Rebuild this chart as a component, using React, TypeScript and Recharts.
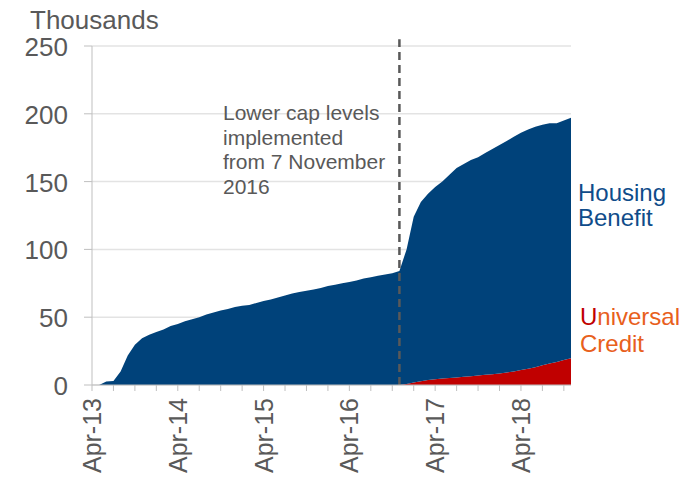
import { AreaChart, Area, XAxis, YAxis, CartesianGrid, ReferenceLine } from "recharts";

const months = [
  "Apr-13", "May-13", "Jun-13", "Jul-13", "Aug-13", "Sep-13", "Oct-13", "Nov-13", "Dec-13", "Jan-14", "Feb-14", "Mar-14",
  "Apr-14", "May-14", "Jun-14", "Jul-14", "Aug-14", "Sep-14", "Oct-14", "Nov-14", "Dec-14", "Jan-15", "Feb-15", "Mar-15",
  "Apr-15", "May-15", "Jun-15", "Jul-15", "Aug-15", "Sep-15", "Oct-15", "Nov-15", "Dec-15", "Jan-16", "Feb-16", "Mar-16",
  "Apr-16", "May-16", "Jun-16", "Jul-16", "Aug-16", "Sep-16", "Oct-16", "Nov-16", "Dec-16", "Jan-17", "Feb-17", "Mar-17",
  "Apr-17", "May-17", "Jun-17", "Jul-17", "Aug-17", "Sep-17", "Oct-17", "Nov-17", "Dec-17", "Jan-18", "Feb-18", "Mar-18",
  "Apr-18", "May-18", "Jun-18", "Jul-18", "Aug-18", "Sep-18", "Oct-18", "Nov-18",
];

// thousands of households
const housingBenefit = [
  0, 0, 2.5, 3, 10, 21.7, 29.6, 34.5, 37, 39, 41, 43.5,
  45, 47, 48.5, 50, 52, 53.5, 55, 56, 57.5, 58.5, 59, 60.5,
  62, 63, 64.5, 66, 67.5, 68.5, 69.5, 70.5, 71.5, 73, 74, 75,
  76, 77, 78.5, 79.5, 80.5, 81.5, 82.5, 84, 99.2, 122.2, 132.2, 137.4,
  141.7, 145.2, 149.8, 154.4, 157, 159.5, 161, 163.5, 166, 168.5, 170.7, 173,
  175, 176.5, 177.5, 177.5, 177.2, 176, 176.5, 177.2,
];

const universalCredit = [
  0, 0, 0, 0, 0, 0, 0, 0, 0, 0, 0, 0,
  0, 0, 0, 0, 0, 0, 0, 0, 0, 0, 0, 0,
  0, 0, 0, 0, 0, 0, 0, 0, 0, 0, 0, 0,
  0, 0, 0, 0, 0, 0, 0, 0, 0.8, 1.8, 2.8, 3.6,
  4.3, 4.8, 5.2, 5.6, 6, 6.5, 7, 7.5, 8, 8.5, 9.3, 10,
  11, 12, 13, 14.5, 15.8, 17, 18.5, 19.8,
];

const yTicks = [0, 50, 100, 150, 200, 250];
const capMonth = "Nov-16";
const annotation = ["Lower cap levels", "implemented", "from 7 November", "2016"];

const data = months.map((m, i) => ({
  month: m,
  hb: housingBenefit[i],
  uc: universalCredit[i],
}));

const xTicks = months.filter((_, i) => i % 3 === 0);

const FONT = "'Liberation Sans', Arial, sans-serif";
const GREY = "#595959";

function XTick({ x, payload }: any) {
  if (!String(payload.value).startsWith("Apr")) return null;
  return (
    <text
      transform={`translate(${x},398) rotate(-90)`}
      textAnchor="end"
      dominantBaseline="central"
      fontSize={25}
      fill={GREY}
      fontFamily={FONT}
    >
      {payload.value}
    </text>
  );
}

function YTick({ y, payload }: any) {
  return (
    <text x={68} y={y + 1} textAnchor="end" dominantBaseline="central" fontSize={26} fill={GREY} fontFamily={FONT}>
      {payload.value}
    </text>
  );
}

export default function App() {
  return (
    <div style={{ position: "relative", width: 694, height: 482, background: "#fff" }}>
      <style>{"body{margin:0}"}</style>
      <AreaChart
        width={694}
        height={482}
        data={data}
        margin={{ top: 46, right: 123, left: 0, bottom: 0 }}
      >
        <CartesianGrid vertical={false} stroke="#e3e3e3" strokeWidth={1.5} />
        <XAxis
          dataKey="month"
          ticks={xTicks}
          interval={0}
          height={97}
          tick={<XTick />}
          tickSize={6}
          axisLine={{ stroke: "#bfbfbf" }}
          tickLine={{ stroke: "#bfbfbf" }}
        />
        <YAxis
          domain={[0, 250]}
          ticks={yTicks}
          width={92}
          tick={<YTick />}
          tickSize={8}
          axisLine={{ stroke: "#bfbfbf" }}
          tickLine={{ stroke: "#bfbfbf" }}
        />
        <Area
          type="linear"
          dataKey="uc"
          stackId="1"
          stroke="none"
          fill="#c00000"
          fillOpacity={1}
          isAnimationActive={false}
        />
        <Area
          type="linear"
          dataKey="hb"
          stackId="1"
          stroke="none"
          fill="#00427a"
          fillOpacity={1}
          isAnimationActive={false}
        />
        <ReferenceLine
          segment={[
            { x: capMonth, y: 0 },
            { x: capMonth, y: 255 },
          ]}
          ifOverflow="visible"
          stroke={GREY}
          strokeWidth={2.5}
          strokeDasharray="8 5"
        />
      </AreaChart>
      <svg
        width={694}
        height={482}
        style={{ position: "absolute", left: 0, top: 0, pointerEvents: "none" }}
        fontFamily={FONT}
      >
        <text x={30} y={29} fontSize={26} fill={GREY}>Thousands</text>
        {annotation.map((line, i) => (
          <text key={line} x={223} y={120 + i * 24.7} fontSize={21} fill={GREY}>
            {line}
          </text>
        ))}
        <text x={578} y={201} fontSize={24} fill="#0f4c8a">Housing</text>
        <text x={578} y={226} fontSize={24} fill="#0f4c8a">Benefit</text>
        <text x={580} y={325} fontSize={24} fill="#e8601c">
          <tspan fill="#c00000">U</tspan>niversal
        </text>
        <text x={580} y={352} fontSize={24} fill="#e8601c">Credit</text>
      </svg>
    </div>
  );
}
